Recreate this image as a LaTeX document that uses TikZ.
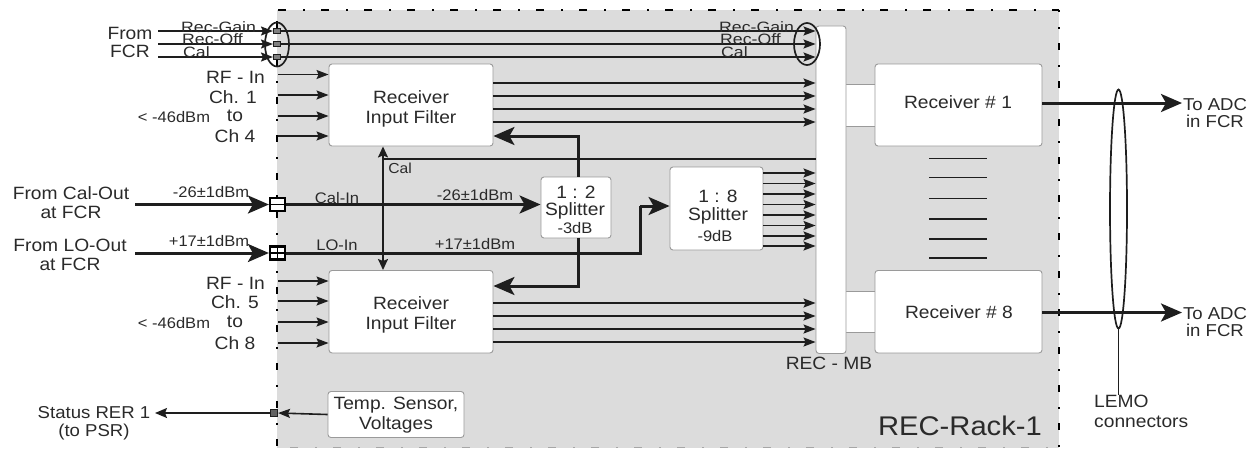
\documentclass[tikz,border=0pt]{standalone}
\usepackage{fontspec}
\setmainfont[FakeStretch=1.08]{Liberation Sans}
\newfontfamily\widefont[FakeStretch=1.18]{Liberation Sans}
\usetikzlibrary{arrows.meta,shapes.geometric}
\definecolor{rack}{HTML}{DCDCDC}
\definecolor{ink}{HTML}{1E1E1E}
\definecolor{txt}{HTML}{2A2A2A}
\definecolor{edge}{HTML}{9A9A9A}
\newcommand{\fs}[1]{\fontsize{#1}{#1}\selectfont}
\tikzset{
  x=1pt,y=-1pt,
  boxn/.style={draw=edge,fill=white,line width=0.9pt,rounded corners=3pt,inner sep=0pt},
  lbl/.style={inner sep=0pt,text=txt,align=center,font=\fs{17.8}},
  lbm/.style={lbl,font=\fs{15.3}},
  lbr/.style={lbl,font=\widefont\fs{15}},
  thin arrow/.style={draw=ink,line width=1.6pt,-{Stealth[length=12pt,width=9pt,inset=2pt]}},
  plain/.style={draw=ink,line width=1.5pt},
  med arrow/.style={draw=ink,line width=1.8pt,{Stealth[length=11pt,width=10pt,inset=2pt]}-{Stealth[length=11pt,width=10pt,inset=2pt]}},
  thick arrow/.style={draw=ink,line width=3pt,-{Stealth[length=21pt,width=18pt,inset=5pt]}},
  thick line/.style={draw=ink,line width=3pt},
  portsmall/.style={draw=ink,fill=gray,line width=1pt,minimum width=7pt,minimum height=5pt,inner sep=0pt},
  portbig/.style={draw=black,fill=white,line width=2.2pt,minimum width=15pt,minimum height=13pt,inner sep=0pt},
  ringn/.style={draw=ink,ellipse,line width=1.7pt,inner sep=0pt},
}
\begin{document}
\begin{tikzpicture}
\useasboundingbox (0,0) rectangle (1255,448);
% rack
\fill[rack] (277,10) rectangle (1059,448);
\draw[black,line width=2.2pt,dash pattern=on 8pt off 17pt on 2pt off 16pt] (278,10) -- (1059,10);
\draw[black,line width=2.2pt,dash pattern=on 7pt off 15pt on 2pt off 14pt,dash phase=27pt] (277,10) -- (277,448);
\draw[black,line width=2.2pt,dash pattern=on 7pt off 15pt on 2pt off 14pt,dash phase=5pt] (1059,10) -- (1059,448);
\draw[gray!70,line width=0.8pt,dash pattern=on 8pt off 17pt on 2pt off 16pt] (290,447) -- (1059,447);
% boxes
\node[boxn,rounded corners=0pt,minimum width=30pt,minimum height=41.5pt] (l1) at (860.5,105.2) {};
\node[boxn,rounded corners=0pt,minimum width=30pt,minimum height=41pt] (l8) at (860.5,311.5) {};
\node[boxn,minimum width=164pt,minimum height=82pt] (f1) at (411,105) {};
\node[boxn,minimum width=164pt,minimum height=82.5pt] (f2) at (411,311.7) {};
\node[boxn,minimum width=30pt,minimum height=327.5pt] (mb) at (831,189.7) {};
\node[boxn,minimum width=167pt,minimum height=82pt] (r1) at (958.5,105) {};
\node[boxn,minimum width=167pt,minimum height=82.5pt] (r8) at (958.5,311.7) {};
\node[boxn,minimum width=70pt,minimum height=61pt] (s12) at (576,207.5) {};
\node[boxn,minimum width=93pt,minimum height=83pt] (s18) at (716.5,208.5) {};
\node[boxn,minimum width=136pt,minimum height=46pt] (temp) at (396,414.5) {};
% box texts
\node[lbl] (tf1) at (411,109) {Receiver\\[2pt]Input Filter};
\node[lbl] (tf2) at (411,315) {Receiver\\[2pt]Input Filter};
\node[lbl] (tr1) at (958,102) {Receiver \# 1};
\node[lbl] (tr8) at (959,312) {Receiver \# 8};
\node[lbl] (ts12a) at (576,192) {1 : 2};
\node[lbl] (ts12b) at (575,211) {Splitter};
\node[lbm] (ts12c) at (575,228) {-3dB};
\node[lbl] (ts18a) at (718,196) {1 : 8};
\node[lbl] (ts18b) at (718,216) {Splitter};
\node[lbm] (ts18c) at (715,236) {-9dB};
\node[lbl] (ttemp) at (396,415) {Temp. Sensor,\\[2pt]Voltages};
% control bus
\foreach \n/\y in {a/31,b/44,c/57}{
  \coordinate (bus\n) at (158,\y);
  \node[portsmall] (p\n) at (277,\y) {};
  \draw[thin arrow] (bus\n) -- (p\n.west);
  \draw[thin arrow] (p\n.east) -- (p\n.east -| mb.west);
}
\node[ringn,minimum width=24pt,minimum height=44pt] (ring1) at (277,44.5) {};
\node[ringn,minimum width=26pt,minimum height=42pt] (ring2) at (807,44) {};
% RF inputs
\foreach \n/\y in {a/74.5,b/95,c/116,d/136}{
  \coordinate (rfu\n) at (278,\y);
  \draw[thin arrow] (rfu\n) -- (rfu\n -| f1.west);
}
\foreach \n/\y in {a/281,b/301,c/322,d/343}{
  \coordinate (rfl\n) at (278,\y);
  \draw[thin arrow] (rfl\n) -- (rfl\n -| f2.west);
}
% filter outputs
\foreach \n/\y in {a/83,b/96,c/109,d/122}{
  \coordinate (ou\n) at (493,\y);
  \draw[thin arrow] (ou\n) -- (ou\n -| mb.west);
}
\foreach \n/\y in {a/303,b/316,c/329,d/342}{
  \coordinate (ol\n) at (493,\y);
  \draw[thin arrow] (ol\n) -- (ol\n -| mb.west);
}
% splitter 1:8 outputs
\foreach \n/\y in {a/173,b/183.5,c/194,d/204.5,e/215,f/225.5,g/236,h/246}{
  \coordinate (os\n) at (763,\y);
  \draw[thin arrow] (os\n) -- (os\n -| mb.west);
}
% cal distribution
\coordinate (calx) at (383,159);
\draw[med arrow] (calx |- f1.south) -- (calx |- f2.north);
\draw[plain] (calx) -- (calx -| mb.west);
\node[lbl,font=\fs{14.5}] (tcal) at (400,168) {Cal};
% cal-in, lo-in
\node[portbig] (pcal) at (277.5,204.5) {};
\node[portbig] (plo) at (277.5,253) {};
\draw[black,line width=1.6pt] (pcal.west) -- (pcal.east);
\draw[black,line width=1.6pt] (plo.west) -- (plo.east);
\draw[black,line width=1.6pt] (plo.north) -- (plo.south);
\coordinate (calsrc) at (135,204.5);
\coordinate (losrc) at (135,253);
\draw[thick arrow] (calsrc) -- (pcal.west);
\draw[thick arrow] (losrc) -- (plo.west);
\draw[thick arrow] (pcal.east) -- (pcal.east -| s12.west);
\coordinate (lobend) at (640,253);
\coordinate (s18in) at (640,206);
\draw[thick line,line join=miter] (plo.east) -- (lobend) -- (s18in);
\draw[thick arrow] (s18in) -- (s18in -| s18.west);
\coordinate (upbend) at (578,136);
\coordinate (dnbend) at (578,286);
\draw[thick arrow] (upbend |- s12.north) -- (upbend) -- (upbend -| f1.east);
\draw[thick arrow] (dnbend |- s12.south) -- (dnbend) -- (dnbend -| f2.east);
% status
\node[portsmall,minimum width=7pt,minimum height=7pt,fill=ink!70] (pst) at (274,413) {};
\coordinate (stend) at (155,413);
\draw[thin arrow] (temp.west) -- (pst.east);
\draw[draw=ink,line width=1.5pt,-{Stealth[length=12pt,width=10pt,inset=2pt]}] (pst.west) -- (stend);
% receivers out
\node[ringn,minimum width=17pt,minimum height=239pt] (lemo) at (1118.5,209) {};
\coordinate (out1) at (1182,103);
\coordinate (out8) at (1182,312.5);
\draw[thick arrow] (out1 -| r1.east) -- (out1);
\draw[thick arrow] (out8 -| r8.east) -- (out8);
% stack lines
\foreach \n/\y in {a/158.5,b/177.5,c/198.5,d/219,e/239,f/258}{
  \coordinate (st\n) at (929,\y);
  \draw[plain] (st\n) -- ++(58,0);
}
% texts left
\node[lbl] (from) at (130,42.5) {From\\[1pt]FCR};
\node[lbr,anchor=west] (g1) at (181,27) {Rec-Gain};
\node[lbr,anchor=west] (g2) at (182,39.5) {Rec-Off};
\node[lbr,anchor=west] (g3) at (183,52) {Cal};
\node[lbr,anchor=west] (h1) at (719,27) {Rec-Gain};
\node[lbr,anchor=west] (h2) at (720,39.5) {Rec-Off};
\node[lbr,anchor=west] (h3) at (721,52) {Cal};
\node[lbl,anchor=east] (u1) at (265,77) {RF - In};
\node[lbl,anchor=east] (u2) at (257,97) {Ch. 1};
\node[lbl] (u3) at (235,116) {to};
\node[lbl] (u4) at (235,136) {Ch 4};
\node[lbm] (u5) at (174,117) {< -46dBm};
\node[lbl,anchor=east] (d1) at (265,283) {RF - In};
\node[lbl,anchor=east] (d2) at (259,302) {Ch. 5};
\node[lbl] (d3) at (235,322) {to};
\node[lbl] (d4) at (235,343) {Ch 8};
\node[lbm] (d5) at (174,323) {< -46dBm};
\node[lbl] (fc1) at (71,202.5) {From Cal-Out\\[1pt]at FCR};
\node[lbl] (fl1) at (70,255) {From LO-Out\\[1pt]at FCR};
\node[lbm] (v1) at (211,192) {-26±1dBm};
\node[lbm] (v2) at (209,241) {+17±1dBm};
\node[lbm] (v3) at (337,198) {Cal-In};
\node[lbm] (v4) at (337,245) {LO-In};
\node[lbm] (v5) at (475,195) {-26±1dBm};
\node[lbm] (v6) at (475,244) {+17±1dBm};
\node[lbl,font=\fs{17.2}] (st1) at (94,423) {Status RER 1\\[1pt](to PSR)};
\node[lbl] (tmb) at (829,363) {REC - MB};
\node[lbl,font=\fs{27}] (trk) at (960,426) {REC-Rack-1};
\node[lbl,font=\fs{17.2}] (a1) at (1215,113) {To ADC\\[0pt]in FCR};
\node[lbl,font=\fs{17.2}] (a8) at (1215,322) {To ADC\\[0pt]in FCR};
\node[lbl,align=left,anchor=north west] (lm) at (1094,395) {LEMO\\[2pt]connectors};
\draw[plain] (lemo.south) -- (lemo.south |- lm.north);
\end{tikzpicture}
\end{document}
